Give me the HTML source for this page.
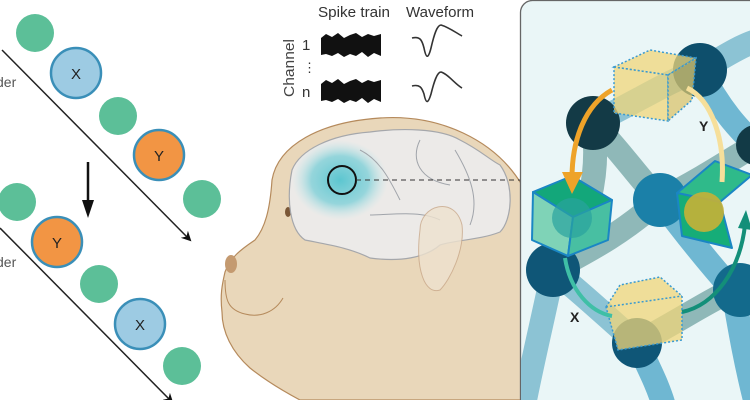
<!DOCTYPE html>
<html><head><meta charset="utf-8"><style>
html,body{margin:0;padding:0;background:#fff;width:750px;height:400px;overflow:hidden}
text{font-family:"Liberation Sans",sans-serif}
</style></head><body>
<svg width="750" height="400" viewBox="0 0 750 400" xmlns="http://www.w3.org/2000/svg">
<defs>
<marker id="ah" markerWidth="10" markerHeight="10" refX="8" refY="5" orient="auto" markerUnits="userSpaceOnUse"><path d="M0,0 L10,5 L0,10 L3,5z" fill="#111"/></marker>
<radialGradient id="blue" cx="0.5" cy="0.5" r="0.5"><stop offset="0" stop-color="#5cc6d0"/><stop offset="0.6" stop-color="#7fd0d8" stop-opacity="0.8"/><stop offset="1" stop-color="#bfe6ea" stop-opacity="0"/></radialGradient>
<clipPath id="pc"><rect x="521" y="1" width="240" height="410" rx="12"/></clipPath>
</defs>

<g fill="#5cbf98">
<circle cx="35" cy="33" r="19"/><circle cx="118" cy="116" r="19"/><circle cx="202" cy="199" r="19"/>
<circle cx="17" cy="202" r="19"/><circle cx="99" cy="284" r="19"/><circle cx="182" cy="366" r="19"/>
</g>
<line x1="2" y1="50" x2="190" y2="240" stroke="#222" stroke-width="1.5" marker-end="url(#ah)"/>
<line x1="0" y1="228" x2="172" y2="402" stroke="#222" stroke-width="1.5" marker-end="url(#ah)"/>
<g stroke="#3a8fb8" stroke-width="2.5">
<circle cx="76" cy="73" r="25" fill="#9dcbe3"/><circle cx="140" cy="324" r="25" fill="#9dcbe3"/>
<circle cx="159" cy="155" r="25" fill="#f29544"/><circle cx="57" cy="242" r="25" fill="#f29544"/>
</g>
<g font-size="15" fill="#222" text-anchor="middle">
<text x="76" y="79">X</text><text x="140" y="330">X</text><text x="159" y="161">Y</text><text x="57" y="248">Y</text>
</g>
<text x="-4" y="87" font-size="14" fill="#555">der</text>
<text x="-4" y="267" font-size="14" fill="#555">der</text>
<line x1="88" y1="162" x2="88" y2="210" stroke="#111" stroke-width="2.5"/>
<path d="M82,200 L88,218 L94,200z" fill="#111"/>

<text x="318" y="17" font-size="15" fill="#333" textLength="72" lengthAdjust="spacingAndGlyphs">Spike train</text>
<text x="406" y="17" font-size="15" fill="#333" textLength="68" lengthAdjust="spacingAndGlyphs">Waveform</text>
<text transform="translate(294,97) rotate(-90)" font-size="15" fill="#444" textLength="58" lengthAdjust="spacingAndGlyphs">Channel</text>
<text x="302" y="50" font-size="15" fill="#333">1</text>
<text x="303" y="72" font-size="13" fill="#333">⋮</text>
<text x="302" y="97" font-size="15" fill="#333">n</text>
<g fill="#111">
<path d="M321,38 L326,34 L332,37 L338,33 L344,38 L350,35 L356,33 L362,37 L368,34 L374,36 L381,34 L381,56 L374,53 L368,57 L362,52 L356,56 L350,54 L344,57 L338,53 L332,56 L326,54 L321,55z"/>
<path d="M321,84 L326,80 L332,83 L338,79 L344,84 L350,81 L356,79 L362,83 L368,80 L374,82 L381,80 L381,102 L374,99 L368,103 L362,98 L356,102 L350,100 L344,103 L338,99 L332,102 L326,100 L321,101z"/>
</g>
<path d="M412,38 C420,36 422,40 424,48 C426,58 428,60 431,48 C434,35 437,25 441,25 C448,27 455,32 462,36" stroke="#333" stroke-width="1.6" fill="none"/>
<path d="M412,86 C420,84 422,88 424,94 C426,104 428,104 431,94 C434,82 437,72 441,72 C448,74 455,84 462,88" stroke="#333" stroke-width="1.6" fill="none"/>

<path d="M272,180 C278,145 320,122 380,118 C440,114 495,140 522,185 L522,400 L300,400 C285,392 265,380 250,368 C232,352 222,332 222,312 C220,295 222,285 225,272 C230,258 240,250 255,240 C265,228 270,210 272,180z" fill="#e9d7ba" stroke="#b58a5c" stroke-width="1.2"/>
<path d="M225,280 C225,300 228,310 245,314 C260,318 275,312 283,298" fill="none" stroke="#b58a5c" stroke-width="1"/>
<ellipse cx="231" cy="264" rx="6" ry="9" fill="#c49a70"/>
<ellipse cx="288" cy="212" rx="3" ry="5" fill="#7a5636"/>
<path d="M292,170 C300,150 330,135 370,132 C400,128 440,128 460,140 C480,150 490,160 500,165 C515,185 512,220 500,232 C480,240 455,240 440,245 C425,258 400,262 370,258 C350,248 330,245 305,240 C290,230 286,200 292,170z" fill="#eceae8" stroke="#a5a7ab" stroke-width="1.2"/>
<ellipse cx="340" cy="180" rx="48" ry="40" fill="url(#blue)"/>
<path d="M360,150 C380,160 390,180 400,200 M420,140 C410,160 420,180 450,185 M455,150 C470,175 480,200 470,225 M370,215 C390,215 420,210 440,220" stroke="#a0a4aa" stroke-width="1" fill="none"/>
<path d="M420,230 C420,205 455,195 462,225 C465,250 450,280 440,290 C425,295 415,270 420,230z" fill="#eee2cf" stroke="#c9a88a" stroke-width="1" opacity="0.8"/>
<circle cx="342" cy="180" r="14" fill="none" stroke="#111" stroke-width="2"/>
<line x1="356" y1="180" x2="522" y2="180" stroke="#333" stroke-width="1" stroke-dasharray="5,4"/>

<rect x="520.5" y="0.5" width="245" height="410" rx="12" fill="#eaf6f7" stroke="#666" stroke-width="1.3"/>
<g clip-path="url(#pc)">
<g fill="none" stroke-width="24" stroke-linecap="round">
<path d="M593,123 C640,100 670,80 700,70 C720,60 740,45 760,40" stroke="#8cc3d4"/>
<path d="M593,123 C600,170 590,230 553,270" stroke="#8fb8b8"/>
<path d="M593,123 C620,150 640,180 660,200" stroke="#8fb8b8"/>
<path d="M700,70 C720,110 740,130 755,145" stroke="#6fb7d2"/>
<path d="M660,200 C690,240 715,270 733,290" stroke="#6fb7d2"/>
<path d="M660,200 C700,180 730,160 755,145" stroke="#8fb8b8"/>
<path d="M553,270 C590,250 620,235 660,200" stroke="#8fb8b8"/>
<path d="M553,270 C590,300 610,320 637,343" stroke="#8cc3d4"/>
<path d="M637,343 C680,320 710,300 733,290" stroke="#8fb8b8"/>
<path d="M637,343 C650,370 660,390 665,410" stroke="#6fb7d2"/>
<path d="M733,290 C740,330 745,360 755,400" stroke="#6fb7d2"/>
<path d="M553,270 C545,310 535,350 525,400" stroke="#8cc3d4"/>
</g>
<circle cx="700" cy="70" r="27" fill="#0e4f6c"/>
<circle cx="593" cy="123" r="27" fill="#133a46"/>
<circle cx="660" cy="200" r="27" fill="#1b80a8"/>
<circle cx="553" cy="270" r="27" fill="#0f5677"/>
<circle cx="637" cy="343" r="25" fill="#0f5677"/>
<circle cx="740" cy="290" r="27" fill="#136a8c"/>
<circle cx="756" cy="145" r="20" fill="#123a46"/>
<g stroke="#3a9ad0" stroke-width="1.5" stroke-dasharray="2,2" fill="#f0d67a" fill-opacity="0.75">
<path d="M614,67 L650,50 L696,58 L668,75z"/>
<path d="M614,67 L668,75 L668,121 L614,113z"/>
<path d="M668,75 L696,58 L692,100 L668,121z" fill="#d9c36c"/>
<path d="M606,307 L620,285 L660,277 L682,296 L682,340 L618,350z"/>
<path d="M606,307 L682,296" fill="none"/>
</g>
<g stroke="#1a86c4" stroke-width="2" stroke-linejoin="round">
<path d="M533,192 L572,176 L612,200 L573,217z" fill="#13a77a"/>
<path d="M533,192 L573,217 L568,256 L532,240z" fill="#7fd3b7"/>
<path d="M573,217 L612,200 L608,240 L568,256z" fill="#48bfa2"/>
<circle cx="572" cy="218" r="20" fill="#2aa39e" stroke="none" opacity="0.7"/>
<path d="M677,193 L715,161 L752,175 L720,202z" fill="#2fba8a"/>
<path d="M677,193 L720,202 L732,248 L682,236z" fill="#16ad78"/>
<circle cx="704" cy="212" r="20" fill="#c6b136" stroke="none" opacity="0.9"/>
</g>
<path d="M612,90 C585,105 572,140 572,178" fill="none" stroke="#eea329" stroke-width="5"/>
<path d="M562,172 L572,194 L583,172z" fill="#eea329"/>
<path d="M687,88 C712,100 725,140 722,182" fill="none" stroke="#f6df9a" stroke-width="5"/>
<path d="M565,258 C570,290 590,312 612,316" fill="none" stroke="#3fbfa6" stroke-width="4"/>
<path d="M682,312 C715,305 740,270 745,225" fill="none" stroke="#138f79" stroke-width="4"/>
<path d="M738,228 L746,210 L752,230z" fill="#138f79"/>
<text x="699" y="131" font-size="14" font-weight="bold" fill="#222">Y</text>
<text x="570" y="322" font-size="14" font-weight="bold" fill="#222">X</text>
</g>
</svg>
</body></html>
